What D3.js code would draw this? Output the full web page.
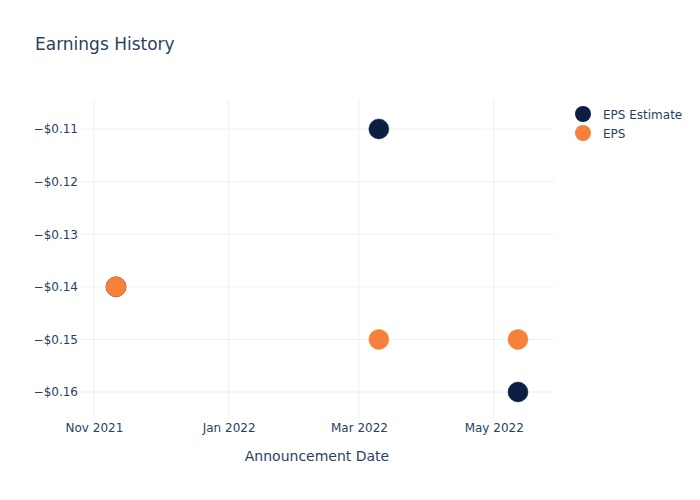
<!DOCTYPE html>
<html>
<head>
<meta charset="utf-8">
<script src="https://cdn.jsdelivr.net/npm/d3@7"></script>
<style>
  body { margin: 0; background: #fff; }
  text { font-family: "DejaVu Sans", sans-serif; fill: #2a3f5f; }
</style>
</head>
<body>
<svg id="chart" width="700" height="500"></svg>
<script>
const dates = ['2021-11-11', '2022-03-10', '2022-05-12']
const epsEstimate = [-0.14, -0.11, -0.16]
const eps = [-0.14, -0.15, -0.15]
const seriesNames = ['EPS Estimate', 'EPS']
const seriesColors = ['#0c1f42', '#f7803a']

const width = 700, height = 500
const plot = {left: 80, right: 554, top: 100, bottom: 420}
const pad = 36  // room for marker size at plot edges
const parse = d3.timeParse('%Y-%m-%d')
const xDates = dates.map(parse)

const svg = d3.select('#chart')

// x scale: fit data inside padded range, then widen out to plot edges
let x = d3.scaleTime().domain(d3.extent(xDates)).range([plot.left + pad, plot.right - pad])
x = d3.scaleTime().domain([x.invert(plot.left), x.invert(plot.right)]).range([plot.left, plot.right])

const allVals = epsEstimate.concat(eps)
let y = d3.scaleLinear().domain(d3.extent(allVals)).range([plot.bottom - 28, plot.top + 29])
y = d3.scaleLinear().domain([y.invert(plot.bottom), y.invert(plot.top)]).range([plot.bottom, plot.top])

const gridColor = '#ebf0f8'

// Gridlines
const xTicks = x.ticks(d3.timeMonth.every(2))
svg.append('g').selectAll('line').data(xTicks).enter().append('line')
   .attr('x1', d => x(d)).attr('x2', d => x(d))
   .attr('y1', plot.top).attr('y2', plot.bottom)
   .attr('stroke', gridColor).attr('stroke-width', 1)

const yTicks = [-0.16, -0.15, -0.14, -0.13, -0.12, -0.11]
svg.append('g').selectAll('line').data(yTicks).enter().append('line')
   .attr('x1', plot.left).attr('x2', plot.right)
   .attr('y1', d => y(d)).attr('y2', d => y(d))
   .attr('stroke', gridColor).attr('stroke-width', 1)

// Axes (labels only, no domain lines)
const xAxis = svg.append('g').attr('transform', `translate(0,${plot.bottom})`)
   .call(d3.axisBottom(x).tickValues(xTicks).tickFormat(d3.timeFormat('%b %Y')).tickSize(0).tickPadding(3))
xAxis.select('.domain').remove()
xAxis.selectAll('text').style('font-size', '12px').attr('fill', '#2a3f5f')

const yAxis = svg.append('g').attr('transform', `translate(${plot.left},0)`)
   .call(d3.axisLeft(y).tickValues(yTicks).tickFormat(d3.format('$.2f')).tickSize(0).tickPadding(2))
yAxis.select('.domain').remove()
yAxis.selectAll('text').style('font-size', '12px').attr('fill', '#2a3f5f')

// Markers
const series = [epsEstimate, eps]
series.forEach((vals, si) => {
  svg.append('g').selectAll('circle').data(vals).enter().append('circle')
     .attr('cx', (d, i) => x(xDates[i]))
     .attr('cy', d => y(d))
     .attr('r', 10)
     .attr('fill', seriesColors[si])
     .attr('stroke', seriesColors[si]).attr('stroke-opacity', 0.5)
})

// Title
svg.append('text').attr('x', 35).attr('y', 50)
   .style('font-size', '17px').text('Earnings History')

// Axis title
svg.append('text').attr('x', (plot.left + plot.right) / 2).attr('y', 461)
   .attr('text-anchor', 'middle').style('font-size', '14px').text('Announcement Date')

// Legend
const legend = svg.append('g').attr('transform', 'translate(583,114)')
seriesNames.forEach((name, i) => {
  const g = legend.append('g').attr('transform', `translate(0,${i * 19})`)
  g.append('circle').attr('r', 8).attr('fill', seriesColors[i])
  g.append('text').attr('x', 20).attr('y', 4.5).style('font-size', '12px').text(name)
})
</script>
</body>
</html>
